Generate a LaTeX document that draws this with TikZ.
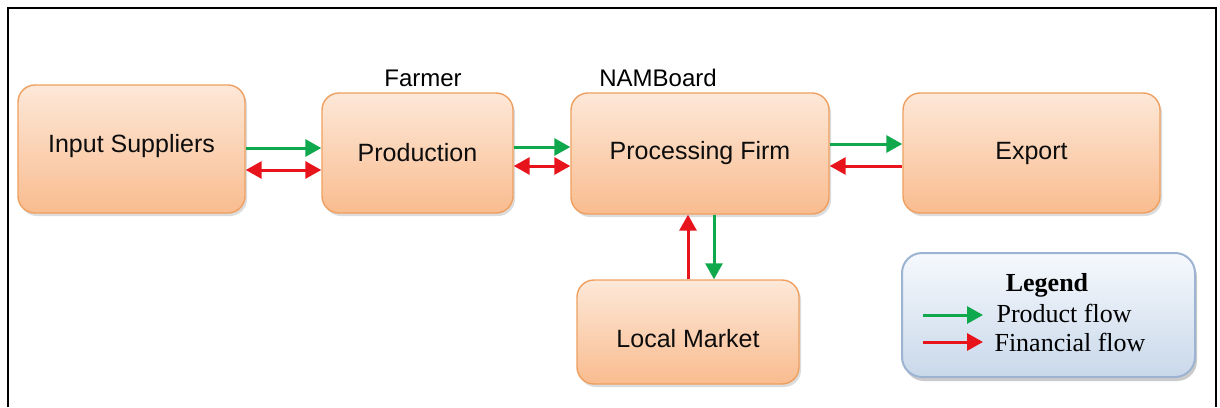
\documentclass[tikz,border=0pt]{standalone}
\usepackage{fontspec}
\setmainfont{Liberation Sans}
\newfontfamily\legendfont{Liberation Serif}
\usetikzlibrary{arrows.meta,shadows}
\definecolor{boxtop}{HTML}{FDE8D8}
\definecolor{boxbot}{HTML}{F9BC8F}
\definecolor{boxline}{HTML}{EFA060}
\definecolor{legtop}{HTML}{F6F9FD}
\definecolor{legbot}{HTML}{C9D8EA}
\definecolor{legline}{HTML}{9CB4D2}
\definecolor{prodgreen}{HTML}{10A84C}
\definecolor{finred}{HTML}{E8141C}
\tikzset{
  box/.style={rounded corners=17pt, draw=boxline, line width=1.4pt,
    top color=boxtop, bottom color=boxbot,
    drop shadow={shadow xshift=2pt, shadow yshift=-3pt, fill=black!30, opacity=0.45},
    font=\fontsize{25}{29}\selectfont, text=black!95},
  legbox/.style={rounded corners=20pt, draw=legline, line width=2pt,
    top color=legtop, bottom color=legbot,
    drop shadow={shadow xshift=2pt, shadow yshift=-4pt, fill=black!40, opacity=0.5}},
  lbl/.style={font=\fontsize{24}{28}\selectfont},
  flow/.style={line width=3pt, -{Triangle[length=16pt,width=17pt]}},
  dflow/.style={line width=3pt, {Triangle[length=16pt,width=17pt]}-{Triangle[length=16pt,width=17pt]}},
  legtext/.style={font=\legendfont\fontsize{26}{30}\selectfont, anchor=west}
}
\begin{document}
\begin{tikzpicture}[x=1pt,y=-1pt]
\useasboundingbox (0,0) rectangle (1220,407);
\fill[white] (0,0) rectangle (1220,407);
\draw[line width=2pt] (8,407) -- (8,8) -- (1216,8) -- (1216,407);

\node[box, minimum width=227pt, minimum height=128pt, text height=12pt, text depth=5pt] (ins) at (131.5,149) {Input Suppliers};
\node[box, minimum width=191pt, minimum height=120pt] (prod) at (417.5,153) {Production};
\node[box, minimum width=258pt, minimum height=121pt] (pf) at (700,153.5) {Processing Firm};
\node[box, minimum width=257pt, minimum height=120pt] (exp) at (1031.5,153) {Export};
\node[box, minimum width=222pt, minimum height=104pt, text height=30pt, text depth=0pt] (lm) at (688,332) {Local Market};

\node[lbl] (farmer) at (423,78) {Farmer};
\node[lbl] (namb) at (658,78) {NAMBoard};

% Input - Production
\draw[flow, prodgreen] (ins.east |- 0,148) -- (prod.west |- 0,148);
\draw[dflow, finred] (ins.east |- 0,170) -- (prod.west |- 0,170);
% Production - Processing
\draw[flow, prodgreen] (prod.east |- 0,147) -- (pf.west |- 0,147);
\draw[dflow, finred] (prod.east |- 0,166) -- (pf.west |- 0,166);
% Processing - Export
\draw[flow, prodgreen] (pf.east |- 0,144) -- (exp.west |- 0,144);
\draw[flow, finred] (exp.west |- 0,166) -- (pf.east |- 0,166);
% Processing - Local Market
\draw[flow, finred] (lm.north -| 688,0) -- (pf.south -| 688,0);
\draw[flow, prodgreen] (pf.south -| 714,0) -- (lm.north -| 714,0);

% Legend
\node[legbox, minimum width=293pt, minimum height=124pt] (leg) at (1048.5,315) {};
\node[font=\legendfont\bfseries\fontsize{26}{30}\selectfont] (legt) at (1047,285) {Legend};
\coordinate (g1) at (923,315);
\coordinate (g2) at (983,315);
\coordinate (r1) at (923,342);
\coordinate (r2) at (983,342);
\draw[flow, prodgreen] (g1) -- (g2);
\draw[flow, finred] (r1) -- (r2);
\node[legtext] (pfl) at (993,313) {Product flow};
\node[legtext] (ffl) at (991,342) {Financial flow};
\end{tikzpicture}
\end{document}
